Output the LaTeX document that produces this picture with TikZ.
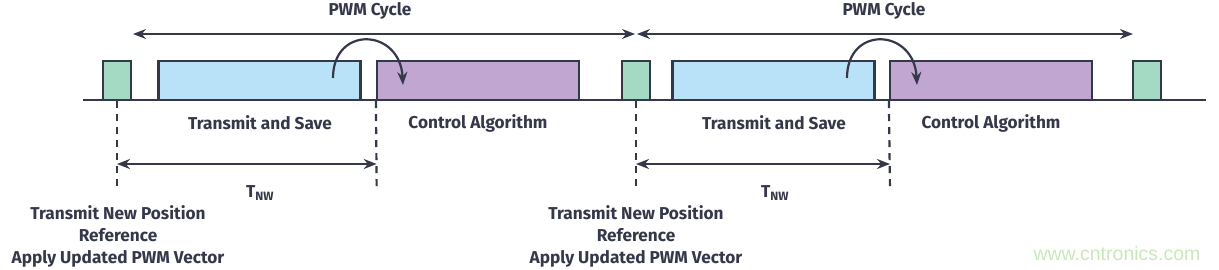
\documentclass[tikz,border=0pt]{standalone}
\usepackage{fontspec}
\setmainfont{Fira Sans}
\newfontfamily\wmfont{Liberation Sans}
\usetikzlibrary{arrows.meta}
\definecolor{ink}{HTML}{343849}
\definecolor{gbox}{HTML}{A4D9C4}
\definecolor{bbox}{HTML}{B9E2F8}
\definecolor{pbox}{HTML}{C0A6D0}
\definecolor{wm}{HTML}{C9E7B9}
\tikzset{
  box/.style={draw=ink, line width=2.2pt, inner sep=0pt, minimum height=39pt},
  pulse/.style={box, fill=gbox, minimum width=28pt},
  tsave/.style={box, fill=bbox, minimum width=202pt},
  ctrl/.style={box, fill=pbox, minimum width=202pt},
  lbl/.style={font=\fontsize{17.2}{22}\selectfont\bfseries, text=ink, inner sep=0pt, align=center},
  vdash/.style={draw=ink, line width=2.2pt, dash pattern=on 7pt off 6pt},
  conn/.style={draw=ink, line width=2.2pt},
  tip/.style={-{Stealth[length=13pt, width=10pt]}},
  dtip/.style={{Stealth[length=13pt, width=10pt]}-{Stealth[length=13pt, width=10pt]}}
}
\begin{document}
\begin{tikzpicture}[x=1pt, y=-1pt]
\useasboundingbox (0,0) rectangle (1219,270);
% baseline
\coordinate (bl) at (83,100);
\coordinate (br) at (1206,100);
\draw[conn] (bl) -- (br);
% boxes
\node[pulse] (g1) at (117,80.5) {};
\node[tsave] (b1) at (259.5,80.5) {};
\node[ctrl]  (p1) at (478,80.5) {};
\node[pulse] (g2) at (636,80.5) {};
\node[tsave] (b2) at (773.5,80.5) {};
\node[ctrl]  (p2) at (991,80.5) {};
\node[pulse] (g3) at (1147,80.5) {};
% box labels
\node[lbl] (t1) at (260,123) {Transmit and Save};
\node[lbl] (c1) at (478,123) {Control Algorithm};
\node[lbl] (t2) at (774,123) {Transmit and Save};
\node[lbl] (c2) at (991,123) {Control Algorithm};
% PWM cycle arrows
\coordinate (a1) at (133,34);
\coordinate (a2) at (635,34);
\coordinate (a3) at (637,34);
\coordinate (a4) at (1133,34);
\draw[conn, dtip] (a1) -- (a2);
\draw[conn, dtip] (a3) -- (a4);
\node[lbl] (pc1) at (370,11) {PWM Cycle};
\node[lbl] (pc2) at (884,11) {PWM Cycle};
% curved arrows
\coordinate (s1) at (333,78);
\coordinate (e1) at (403,85);
\draw[conn, tip] (s1) .. controls (333,25) and (400,28) .. (e1);
\coordinate (s2) at (847,78);
\coordinate (e2) at (917,85);
\draw[conn, tip] (s2) .. controls (847,25) and (914,28) .. (e2);
% dashed markers
\coordinate (d1) at (117,192);
\coordinate (d2) at (376.7,192);
\coordinate (d3) at (636,192);
\coordinate (d4) at (890,192);
\draw[vdash] (g1.south) -- (d1);
\draw[vdash] (p1.south west) -- (d2);
\draw[vdash] (g2.south) -- (d3);
\draw[vdash] (p2.south west) -- (d4);
% T_NW arrows
\coordinate (n1) at (117,164);
\coordinate (n2) at (376.7,164);
\coordinate (n3) at (636,164);
\coordinate (n4) at (890,164);
\draw[conn, dtip] (n1) -- (n2);
\draw[conn, dtip] (n3) -- (n4);
\node[lbl] (tn1) at (260,193) {T\textsubscript{NW}};
\node[lbl] (tn2) at (775,193) {T\textsubscript{NW}};
% bottom labels
\node[lbl] (r1) at (118,236) {Transmit New Position\\Reference\\Apply Updated PWM Vector};
\node[lbl] (r2) at (636,236) {Transmit New Position\\Reference\\Apply Updated PWM Vector};
% watermark
\node[font=\wmfont\fontsize{19.5}{19.5}\selectfont, text=wm, inner sep=0pt] (wmk) at (1117,254) {www.cntronics.com};
\end{tikzpicture}
\end{document}
